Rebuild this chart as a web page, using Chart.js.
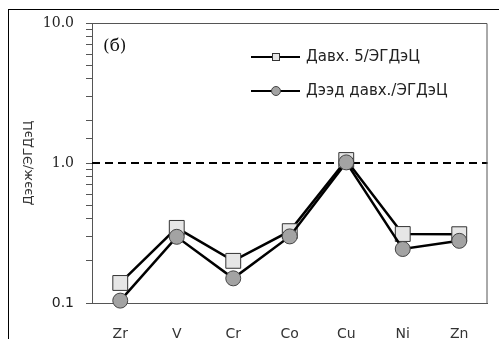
<!DOCTYPE html>
<html>
<head>
<meta charset="utf-8">
<script src="https://cdn.jsdelivr.net/npm/chart.js@4.4.1/dist/chart.umd.min.js"></script>
<style>
  html, body { margin: 0; padding: 0; background: #fff; overflow: hidden; }
  #frame { position: absolute; left: 8px; top: 9px; width: 600px; height: 400px; border-left: 1px solid #000; border-top: 1px solid #000; }
  #wrap { position: absolute; left: 0; top: 0; width: 499px; height: 339px; }
</style>
</head>
<body>
<div id="frame"></div>
<div id="wrap"><canvas id="chart" width="499" height="339"></canvas></div>
<script>
const elements = ['Zr', 'V', 'Cr', 'Co', 'Cu', 'Ni', 'Zn'];
const layer5 = [0.139, 0.344, 0.200, 0.326, 1.05, 0.311, 0.310];
const upperLayer = [0.104, 0.297, 0.150, 0.299, 1.01, 0.243, 0.278];
const seriesNames = ['Давх. 5/ЭГДэЦ', 'Дээд давх./ЭГДэЦ'];
const referenceLevel = 1;
const panelTag = '(б)';

const isDecade = (v) => Math.abs(Math.log10(v) - Math.round(Math.log10(v))) < 1e-6;

const frameAndRef = {
  id: 'frameAndRef',
  beforeDatasetsDraw(chart) {
    const { ctx, chartArea: a, scales } = chart;
    const y = Math.round(scales.y.getPixelForValue(referenceLevel));
    ctx.save();
    ctx.strokeStyle = '#000';
    ctx.lineWidth = 2;
    ctx.setLineDash([8, 5]);
    ctx.beginPath();
    ctx.moveTo(a.left, y);
    ctx.lineTo(a.right, y);
    ctx.stroke();
    ctx.restore();
  },
  afterDraw(chart) {
    const { ctx, chartArea: a } = chart;
    ctx.save();
    // top and right edges of the plot box
    ctx.strokeStyle = '#555';
    ctx.lineWidth = 1;
    ctx.beginPath();
    ctx.moveTo(a.left, a.top + 0.5);
    ctx.lineTo(a.right - 0.5, a.top + 0.5);
    ctx.lineTo(a.right - 0.5, a.bottom);
    ctx.stroke();

    ctx.fillStyle = '#111';
    ctx.font = '17px "DejaVu Serif"';
    ctx.textBaseline = 'middle';
    ctx.fillText(panelTag, a.left + 11, a.top + 24);

    // legend inside the plot, line-marker-line
    chart.data.datasets.forEach((ds, i) => {
      const y = a.top + 34 + i * 34;
      const x0 = a.left + 159;
      ctx.strokeStyle = '#000';
      ctx.lineWidth = 2;
      ctx.setLineDash([]);
      ctx.beginPath();
      ctx.moveTo(x0, y);
      ctx.lineTo(x0 + 49, y);
      ctx.stroke();
      ctx.fillStyle = ds.pointBackgroundColor;
      ctx.strokeStyle = ds.pointBorderColor;
      ctx.lineWidth = 1;
      const cx = x0 + 25;
      if (ds.pointStyle === 'rect') {
        ctx.fillRect(cx - 4, y - 4, 8, 8);
        ctx.strokeRect(cx - 3.5, y - 3.5, 7, 7);
      } else {
        ctx.beginPath();
        ctx.arc(cx, y, 4.5, 0, Math.PI * 2);
        ctx.fill();
        ctx.stroke();
      }
      ctx.fillStyle = '#222';
      ctx.font = '15px "DejaVu Sans"';
      ctx.textBaseline = 'middle';
      ctx.fillText(ds.label, x0 + 55, y);
    });
    ctx.restore();
  }
};

new Chart(document.getElementById('chart'), {
  type: 'line',
  data: {
    labels: elements,
    datasets: [
      {
        label: seriesNames[0],
        data: layer5,
        order: 1,
        borderColor: '#000',
        borderWidth: 2.5,
        pointStyle: 'rect',
        pointRadius: 10.5,
        pointBackgroundColor: '#e6e6e6',
        pointBorderColor: '#333',
        pointBorderWidth: 1,
        tension: 0
      },
      {
        label: seriesNames[1],
        data: upperLayer,
        order: 0,
        borderColor: '#000',
        borderWidth: 2.5,
        pointStyle: 'circle',
        pointRadius: 7.5,
        pointBackgroundColor: '#a3a3a3',
        pointBorderColor: '#444',
        pointBorderWidth: 1,
        tension: 0
      }
    ]
  },
  options: {
    responsive: false,
    animation: false,
    clip: false,
    layout: { padding: { top: 23, right: 7, left: 0, bottom: 0 } },
    plugins: { legend: { display: false }, tooltip: { enabled: false } },
    scales: {
      x: {
        offset: true,
        grid: { display: false },
        border: { display: true, color: '#555', width: 1 },
        ticks: { color: '#333', font: { family: 'DejaVu Sans', size: 14 }, padding: 15 },
        afterFit: (s) => { s.height = 36; }
      },
      y: {
        type: 'logarithmic',
        min: 0.1,
        max: 10,
        border: { display: true, color: '#555', width: 1 },
        grid: { display: true, drawOnChartArea: false, drawTicks: true, tickLength: 6, tickColor: '#555' },
        ticks: {
          autoSkip: false,
          color: '#222',
          padding: 12,
          font: (ctx) => ctx.tick && ctx.tick.value < 0.5
            ? { family: 'DejaVu Sans', size: 14 }
            : { family: 'DejaVu Serif', size: 14 },
          callback: (v) => isDecade(v) ? Number(v).toFixed(1) : ''
        },
        title: {
          display: true,
          text: 'Дээж/ЭГДэЦ',
          color: '#333',
          font: { family: 'DejaVu Sans', size: 13 },
          padding: { top: 21, bottom: 0 }
        },
        afterFit: (s) => { s.width = 92; }
      }
    }
  },
  plugins: [frameAndRef]
});
</script>
</body>
</html>
